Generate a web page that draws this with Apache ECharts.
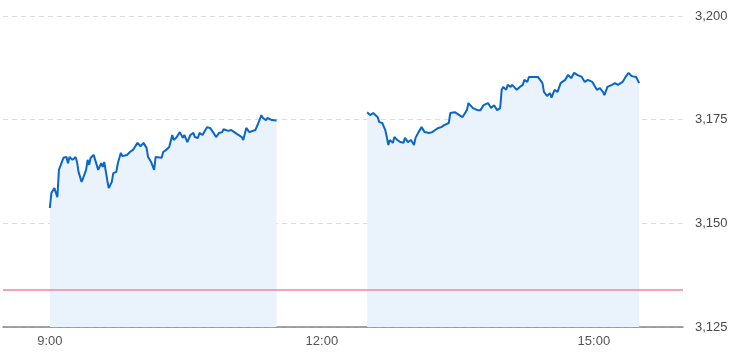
<!DOCTYPE html>
<html>
<head>
<meta charset="utf-8">
<script src="https://cdn.jsdelivr.net/npm/echarts@6/dist/echarts.min.js"></script>
<style>html,body{margin:0;padding:0;background:#fff}#c{width:733px;height:356px}</style>
</head>
<body>
<div id="c"></div>
<script>
// Morning session
var amTimes = ["9:00","9:01","9:03","9:05","9:06","9:07","9:09","9:11","9:12","9:13","9:15","9:17","9:18","9:19","9:21","9:22","9:24","9:25","9:26","9:27","9:29","9:30","9:32","9:34","9:35","9:36","9:38","9:39","9:41","9:42","9:44","9:45","9:46","9:47","9:48","9:51","9:53","9:55","9:58","9:59","10:00","10:02","10:04","10:05","10:07","10:09","10:10","10:11","10:14","10:15","10:17","10:19","10:21","10:22","10:24","10:26","10:28","10:29","10:31","10:33","10:35","10:36","10:38","10:39","10:41","10:44","10:46","10:48","10:50","10:52","10:54","10:55","10:58","11:00","11:02","11:04","11:07","11:08","11:10","11:12","11:16","11:18","11:20","11:21","11:23","11:24","11:27","11:30"];
var amValues = [3153.7,3157.3,3158.5,3156.3,3162.9,3163.3,3165.8,3166.0,3164.5,3166.0,3165.3,3166.0,3164.8,3162.4,3160.0,3160.9,3162.9,3165.3,3164.1,3165.8,3166.5,3165.3,3162.9,3164.5,3163.6,3164.8,3160.4,3158.5,3160.0,3162.1,3162.4,3164.5,3164.8,3167.0,3166.2,3166.5,3167.2,3167.7,3169.4,3169.6,3168.6,3169.4,3168.2,3166.0,3164.8,3162.9,3166.0,3166.0,3165.8,3167.2,3167.7,3168.4,3171.3,3170.1,3170.8,3172.0,3170.6,3171.3,3169.6,3171.3,3171.8,3170.8,3170.6,3171.8,3171.3,3173.2,3173.0,3172.0,3170.8,3171.8,3172.0,3172.7,3172.3,3172.5,3172.0,3171.5,3170.8,3170.1,3173.0,3172.0,3172.5,3174.2,3176.1,3175.4,3174.9,3175.4,3174.9,3174.8];
// Afternoon session
var pmTimes = ["12:30","12:32","12:34","12:35","12:37","12:38","12:40","12:42","12:43","12:44","12:45","12:47","12:48","12:50","12:52","12:54","12:55","12:57","12:59","13:01","13:02","13:04","13:06","13:08","13:11","13:13","13:15","13:17","13:19","13:21","13:24","13:25","13:28","13:31","13:33","13:36","13:37","13:40","13:43","13:45","13:47","13:50","13:52","13:54","13:56","13:58","13:59","14:00","14:02","14:03","14:05","14:06","14:09","14:11","14:13","14:14","14:16","14:17","14:18","14:20","14:23","14:26","14:27","14:29","14:31","14:32","14:34","14:36","14:38","14:41","14:43","14:45","14:47","14:49","14:52","14:54","14:56","14:59","15:02","15:04","15:06","15:07","15:09","15:12","15:14","15:16","15:19","15:21","15:23","15:25","15:28","15:30"];
var pmValues = [3176.8,3176.1,3176.6,3176.8,3175.6,3174.4,3174.2,3172.5,3170.8,3168.9,3170.1,3169.4,3170.8,3170.1,3169.6,3169.4,3170.6,3169.6,3170.1,3168.9,3170.6,3172.0,3173.2,3172.0,3171.8,3172.0,3172.5,3173.0,3173.2,3173.7,3174.2,3176.6,3176.8,3176.1,3175.6,3177.3,3179.0,3177.8,3177.3,3177.3,3178.5,3179.0,3177.8,3178.5,3177.3,3177.8,3182.2,3182.9,3182.2,3183.4,3182.9,3183.4,3182.2,3182.9,3183.4,3184.6,3184.1,3185.3,3185.0,3185.3,3185.3,3183.8,3181.7,3180.7,3181.4,3180.3,3182.2,3181.7,3183.8,3184.6,3185.8,3185.0,3186.3,3185.8,3185.3,3184.1,3184.6,3184.1,3182.2,3182.6,3181.7,3180.9,3182.9,3183.4,3183.8,3183.4,3184.1,3185.3,3186.3,3185.5,3185.3,3183.8];
var prevClose = 3133.9;
var yTicks = [3125, 3150, 3175, 3200];
var xLabels = ["9:00", "12:00", "15:00"];
var xStart = "8:29", xEnd = "15:59";

function toMin(t) { var p = t.split(":"); return (+p[0]) * 60 + (+p[1]); }
function fmtMin(v) { var h = Math.floor(v / 60), m = v % 60; return h + ":" + (m < 10 ? "0" : "") + m; }
function pairs(ts, vs) { return ts.map(function (t, i) { return [toMin(t), vs[i]]; }); }

var lineColor = "#0a66c8";
var areaColor = "#eaf2fb";
var chart = echarts.init(document.getElementById("c"), null, { renderer: "canvas" });
chart.setOption({
  animation: false,
  grid: { left: 3, right: 50, top: 16, bottom: 29, containLabel: false },
  xAxis: {
    type: "value", min: toMin(xStart), max: toMin(xEnd),
    axisLine: { show: true, lineStyle: { color: "#80858c", width: 1.5 } },
    axisTick: { show: false },
    splitLine: { show: false },
    axisLabel: {
      color: "#555", fontSize: 13, margin: 8, fontFamily: "Arial, Liberation Sans, sans-serif",
      customValues: xLabels.map(toMin),
      formatter: function (v) { return fmtMin(v); }
    }
  },
  yAxis: {
    type: "value", position: "right", min: yTicks[0], max: yTicks[yTicks.length - 1], interval: 25,
    axisLine: { show: false }, axisTick: { show: false },
    splitLine: { show: true, lineStyle: { color: "#dcdcdc", type: [5, 4], width: 1 } },
    axisLabel: {
      color: "#4a4a4a", fontSize: 13, margin: 12, fontFamily: "Arial, Liberation Sans, sans-serif",
      formatter: function (v) { return v.toLocaleString("en-US"); }
    }
  },
  series: [
    {
      type: "line", data: pairs(amTimes, amValues), symbol: "none", z: 3,
      lineStyle: { color: lineColor, width: 2 },
      areaStyle: { color: areaColor, opacity: 1, origin: "start" },
      markLine: {
        silent: true, symbol: "none", label: { show: false },
        lineStyle: { color: "#f3839f", width: 1.5, type: "solid" },
        data: [{ yAxis: prevClose }]
      }
    },
    {
      type: "line", data: pairs(pmTimes, pmValues), symbol: "none", z: 3,
      lineStyle: { color: lineColor, width: 2 },
      areaStyle: { color: areaColor, opacity: 1, origin: "start" }
    }
  ]
});
</script>
</body>
</html>
